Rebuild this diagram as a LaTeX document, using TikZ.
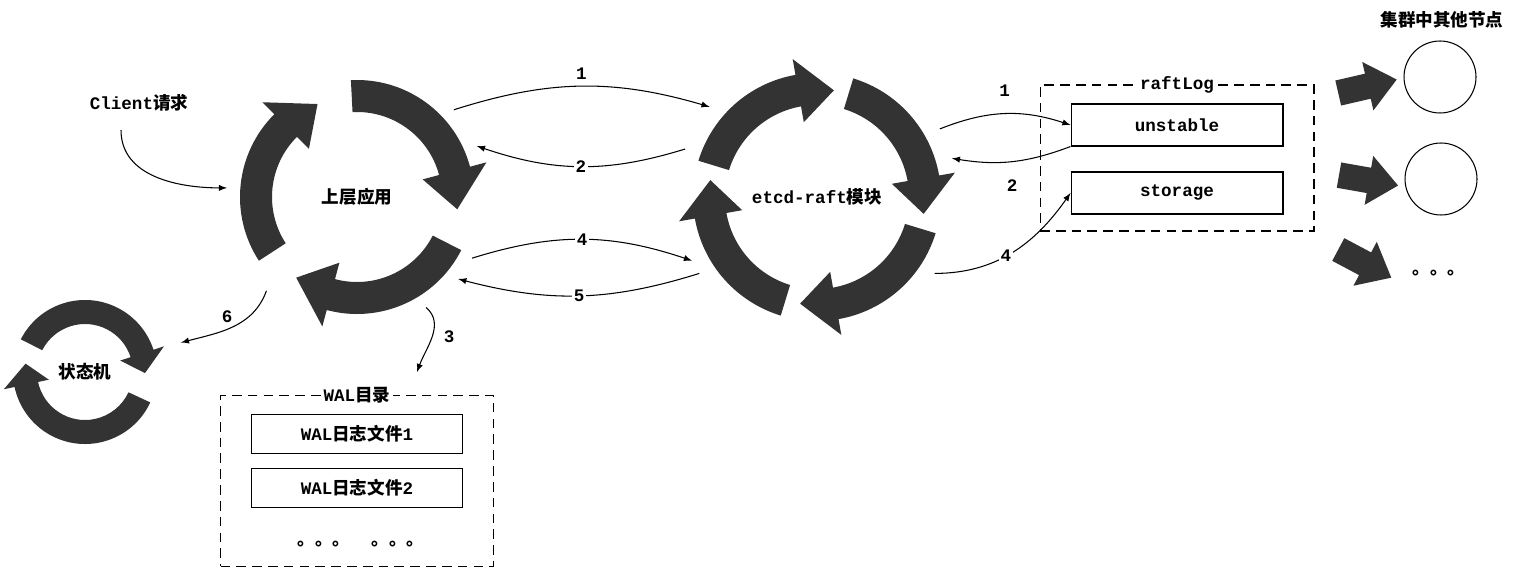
\documentclass[tikz,border=0pt]{standalone}
\usepackage{fontspec}
\setmonofont{Liberation Mono}
\newfontfamily\cjk{Noto Sans CJK SC}
\usepackage{tikz}
\usetikzlibrary{positioning,shapes.arrows,calc}

\newcommand{\zh}[1]{{\cjk #1}}
\definecolor{cycfill}{gray}{0.2}

% thick ring arrow: centre, start, head base, tip, inner r, outer r, overhang
\newcommand{\ringarrow}[7]{%
  \pgfmathsetmacro\rlo{#5-#7}%
  \pgfmathsetmacro\rhi{#6+#7}%
  \pgfmathsetmacro\rmid{(#5+#6)/2}%
  \fill[cycfill] ($(#1)+(#2:#6)$) arc[start angle=#2, end angle=#3, radius=#6]
    -- ($(#1)+(#3:\rhi)$) -- ($(#1)+(#4:\rmid)$) -- ($(#1)+(#3:\rlo)$)
    -- ($(#1)+(#3:#5)$) arc[start angle=#3, end angle=#2, radius=#5] -- cycle;}

\tikzset{
  hub/.style={circle, inner sep=0pt, minimum size=#1},
  filebox/.style={draw, line width=0.6pt, minimum width=4.22cm, minimum height=0.8cm},
  dirbox/.style={draw, dash pattern=on 5.5pt off 3.5pt, line width=0.6pt},
  boxtitle/.style={fill=white, inner sep=1.5pt},
  flow/.style={->, >=latex, line width=0.6pt},
  num/.style={fill=white, inner sep=1pt},
  peer/.style={draw, circle, line width=0.6pt, minimum size=1.44cm},
  blockarrow/.style={single arrow, fill=cycfill, inner xsep=0pt, inner ysep=0.25cm,
    minimum height=1.2cm, single arrow head extend=0.24cm, single arrow tip angle=80}
}

\begin{document}
\begin{tikzpicture}[x=0.02cm, y=0.02cm, font=\ttfamily\bfseries]
    \useasboundingbox[fill=white] (0,0) rectangle (1518,582);

    % the three loops
    \node[hub=5.2cm] (app) at (357,385) {\zh{上层应用}};
    \node[hub=5.6cm] (raft) at (817,385) {etcd-raft\zh{模块}};
    \node[hub=4cm] (fsm) at (85,210) {\zh{状态机}};
    \foreach \s/\b/\t in {213/135/113, 93/15/-7, -27/-105/-127}
             {\ringarrow{app}{\s}{\b}{\t}{85}{117}{17}}
    \foreach \s/\b/\t in {163/100/81, 73/10/-9, -17/-80/-99, -107/-170/-189}
             {\ringarrow{raft}{\s}{\b}{\t}{92}{124}{16}}
    \foreach \s/\b/\t in {153/18/-1, -25/-168/-188}
             {\ringarrow{fsm}{\s}{\b}{\t}{48}{72}{11}}

    % client
    \node (client) at (139,479) {Client\zh{请求}};
    \draw[flow] ([xshift=-0.36cm, yshift=-0.25cm]client.south) to[out=-90, in=180] (app.176);

    % app <-> raft
    \draw[flow] (app.42) to[bend left=17] node[above] {1} (raft.140);
    \draw[flow] (raft.160) to[bend left=18] node[num] {2} (app.23);
    \draw[flow] (app.-28) to[bend left=18] node[num] {4} (raft.207);
    \draw[flow] (raft.213) to[bend left=16] node[num] {5} (app.-39);

    % raftLog
    \node[dirbox, minimum width=5.48cm, minimum height=2.92cm] (raftlog) at (1177,424) {};
    \node[boxtitle] (raftlogtitle) at (raftlog.north) {raftLog};
    \node[filebox, minimum width=4.24cm, minimum height=0.84cm] (unstable) at (1177,457) {unstable};
    \node[filebox, minimum width=4.24cm, minimum height=0.84cm] (storage) at (1177,389) {storage};
    \draw[flow] (raft.29) to[bend left=20] node[above=6pt] {1} (unstable.west);
    \draw[flow] (unstable.south west) to[bend left=15] node[below=7pt] {2} (raft.16);
    \draw[flow] (raft.-33) to[out=0, in=235] node[num, pos=0.45] {4} (storage.west);

    % WAL
    \node[dirbox, minimum width=5.46cm, minimum height=3.42cm] (waldir) at (357,101) {};
    \node[boxtitle] (waltitle) at (waldir.north) {WAL\zh{目录}};
    \node[filebox, minimum height=0.78cm] (wal1) at (357,148) {WAL\zh{日志文件}1};
    \node[filebox, minimum height=0.78cm] (wal2) at (357,94) {WAL\zh{日志文件}2};
    \node[anchor=base] (walmore) at (361,37) {\zh{。。。\hspace{1.2em}。。。}};
    \coordinate (walin) at (417,210);
    \draw[flow] (app.-58) to[out=-40, in=70] node[right=3pt] {3} (walin);
    \draw[flow] (app.226) to[out=250, in=15] node[pos=0.3, left=6pt] {6} (fsm.17);

    % other nodes of the cluster
    \node (peerstitle) at (1442,562) {\zh{集群中其他节点}};
    \node[peer] (peer1) at (1440,505) {};
    \node[peer] (peer2) at (1441,403) {};
    \node[anchor=base] (peermore) at (1439,307) {\zh{。。。}};
    \node[blockarrow, rotate=13] (push1) at (1360,494) {};
    \node[blockarrow, rotate=-10] (push2) at (1361,403) {};
    \node[blockarrow, rotate=-28] (push3) at (1358,322) {};
\end{tikzpicture}
\end{document}
